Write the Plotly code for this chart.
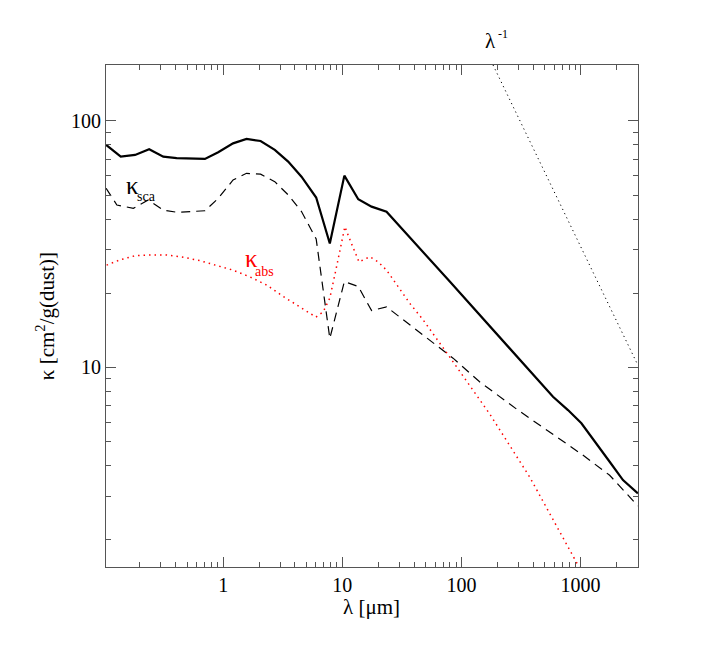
import plotly.graph_objects as go

# wavelength grid (micron) and opacities
lam_ext = [0.104, 0.138, 0.182, 0.239, 0.314, 0.407, 0.702, 0.908, 1.21, 1.57, 2.06, 2.71,
           3.51, 4.54, 6.03, 7.85, 10.4, 13.6, 17.6, 23.5, 79.8, 209, 587, 784, 1016,
           1754, 2270, 3030]
kappa_ext = [79.9, 71.6, 72.8, 76.7, 71.6, 70.6, 70.1, 74.6, 81.1, 84.5, 82.9, 76.3,
             68.4, 59.4, 48.9, 31.8, 60.0, 48.1, 44.9, 42.8, 22.3, 13.3, 7.60, 6.71, 5.93,
             4.14, 3.49, 3.08]

lam_sca = [0.104, 0.128, 0.176, 0.235, 0.314, 0.407, 0.702, 0.908, 1.21, 1.57, 2.06, 2.71,
           3.51, 4.54, 6.03, 7.85, 10.4, 13.6, 17.6, 23.5, 85, 142, 298, 1016, 1754,
           2270, 3030]
kappa_sca = [53.3, 45.6, 44.2, 47.8, 43.5, 42.6, 43.2, 48.5, 57.6, 61.3, 60.8, 56.7,
             50.1, 42.9, 33.2, 13.1, 22.3, 21.3, 17.0, 17.6, 10.9, 8.74, 6.71, 4.45, 3.65,
             3.18, 2.74]

lam_abs = [0.105, 0.136, 0.182, 0.243, 0.335, 0.462, 0.638, 0.881, 1.21, 1.67, 2.31, 3.19,
           4.40, 6.0, 6.90, 7.85, 8.94, 10.5, 11.9, 13.8, 17.0, 20.0, 23.5, 28.5, 36.8,
           47.6, 61.7, 79.8, 173, 374, 922, 1192]
kappa_abs = [26.0, 27.3, 28.4, 28.6, 28.6, 28.0, 27.1, 26.0, 24.8, 23.3, 21.6, 19.4,
             17.6, 16.0, 16.8, 19.1, 25.6, 37.2, 31.9, 26.8, 28.1, 26.8, 24.8, 21.6, 18.2,
             15.6, 13.1, 11.0, 6.46, 3.59, 1.62, 1.25]

lam_ref = [184, 3030]
kappa_ref = [168.7, 10.2]

x_ticks = [1, 10, 100, 1000]
y_ticks = [10, 100]
x_minor = [m * 10.0 ** e for e in range(-1, 4) for m in range(2, 10)]
y_minor = [m * 10.0 ** e for e in range(0, 3) for m in range(2, 10)]

FONT = "Liberation Serif"
AX = "#555555"

fig = go.Figure()
fig.add_trace(go.Scatter(x=lam_ext, y=kappa_ext, mode="lines",
                         line=dict(color="black", width=2.2)))
fig.add_trace(go.Scatter(x=lam_sca, y=kappa_sca, mode="lines",
                         line=dict(color="black", width=1.2, dash="9px,6px")))
fig.add_trace(go.Scatter(x=lam_abs, y=kappa_abs, mode="lines",
                         line=dict(color="red", width=1.5, dash="1.5px,4px")))
fig.add_trace(go.Scatter(x=lam_ref, y=kappa_ref, mode="lines",
                         line=dict(color="black", width=1, dash="1.2px,3.5px")))
# invisible trace to activate the top/right tick axes
fig.add_trace(go.Scatter(x=[lam_ext[0]], y=[kappa_ext[0]], xaxis="x2", yaxis="y2",
                         mode="markers", marker=dict(opacity=0), hoverinfo="skip"))

def axis(rng, major, minor, labels=True, **kw):
    d = dict(
        type="log", range=rng, showgrid=False, zeroline=False, showline=True,
        linecolor=AX, linewidth=1, ticks="inside", ticklen=10, tickcolor=AX, tickwidth=1,
        tickmode="array", tickvals=major, ticktext=[str(v) for v in major],
        showticklabels=labels,
        minor=dict(ticks="inside", ticklen=5, tickcolor=AX, tickwidth=1, showgrid=False,
                   tickmode="array", tickvals=minor),
        tickfont=dict(family=FONT, size=20, color="black"),
    )
    d.update(kw)
    return d

XR = [-0.984, 3.482]
YR = [0.19, 2.227]
fig.update_layout(
    font=dict(family=FONT),
    xaxis=axis(XR, x_ticks, x_minor),
    yaxis=axis(YR, y_ticks, y_minor),
    xaxis2=axis(XR, x_ticks, x_minor, labels=False, overlaying="x", side="top", anchor="y"),
    yaxis2=axis(YR, y_ticks, y_minor, labels=False, overlaying="y", side="right", anchor="x"),
)

L, R, T, B = 106, 638.3, 65, 566.7
ann = []
def add(text, px, py, size, color="black", angle=0):
    ann.append(dict(text=text, x=(px - L) / (R - L), y=(B - py) / (B - T),
                    xref="paper", yref="paper", showarrow=False,
                    xanchor="center", yanchor="middle", textangle=angle,
                    font=dict(family=FONT, size=size, color=color)))

add("κ", 133, 185, 25)
add("sca", 147, 196, 14)
add("κ", 252, 258, 25, "red")
add("abs", 265, 271, 14, "red")
add("λ", 490.7, 41, 21)
add("-1", 503, 34, 12)
add("λ [μm]", 371.7, 607, 21)
add("κ [cm<sup>2</sup>/g(dust)]", 45, 316, 21, angle=-90)

OFF = 8  # page body margin
W, H = 709 - OFF, 668 - OFF
fig.update_layout(
    width=W, height=H, showlegend=False,
    paper_bgcolor="white", plot_bgcolor="white",
    margin=dict(l=L - OFF, r=W + OFF - R, t=T - OFF, b=H + OFF - B),
    annotations=ann,
)

fig.write_html("out.html")
